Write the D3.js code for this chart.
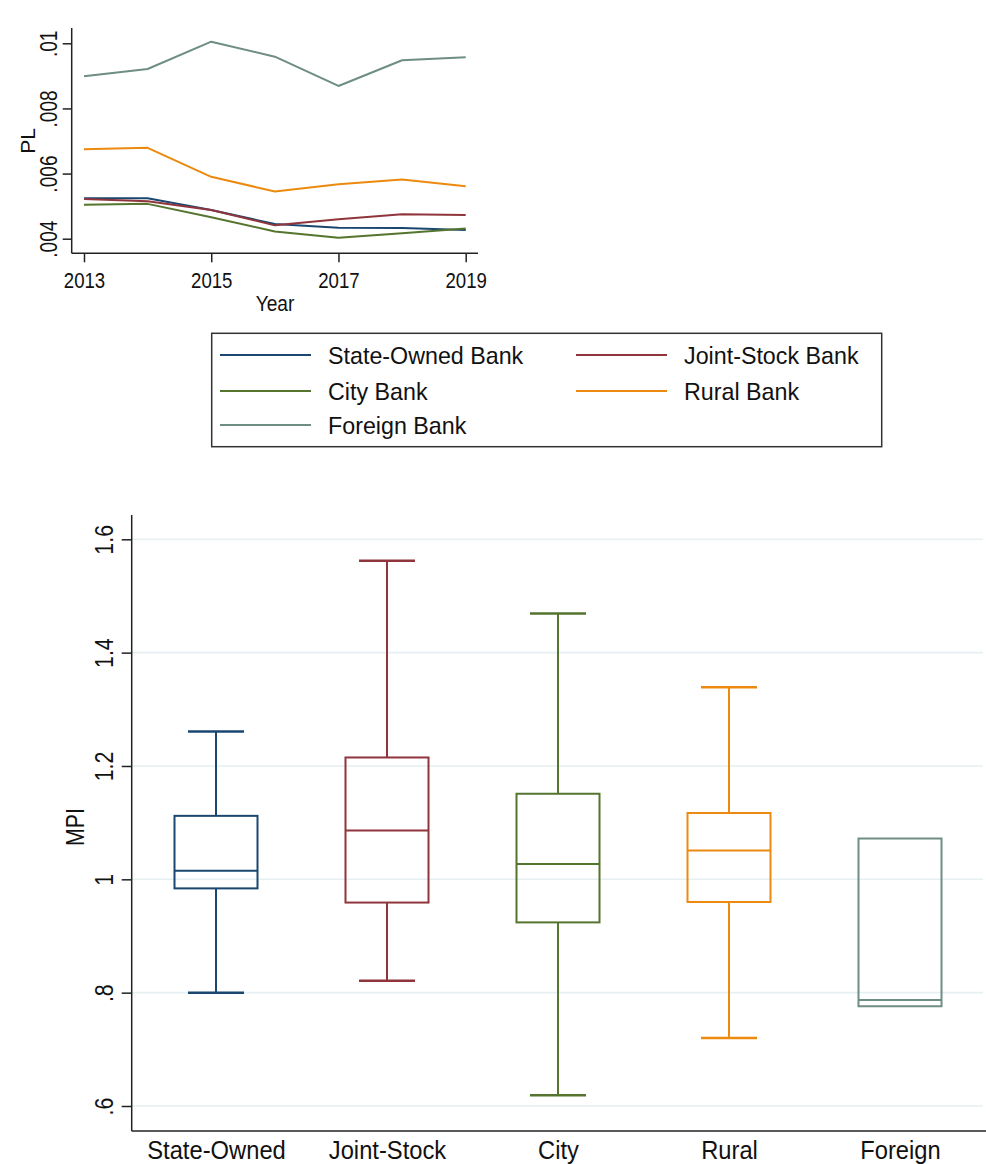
<!DOCTYPE html>
<html>
<head>
<meta charset="utf-8">
<script src="https://cdn.jsdelivr.net/npm/d3@7"></script>
<style>
  html, body { margin: 0; padding: 0; background: #fff; }
  svg { display: block; font-family: Arial, "Liberation Sans", sans-serif; }
</style>
</head>
<body>
<svg id="chart" width="986" height="1164"></svg>
<script>
// ---------- Data: top line chart (PL by year) ----------
const years = [2013, 2014, 2015, 2016, 2017, 2018, 2019];
const yearTicks = [2013, 2015, 2017, 2019];
const plTicks = [0.004, 0.006, 0.008, 0.01];
const plTickLabels = [".004", ".006", ".008", ".01"];

const seriesNames = ["State-Owned Bank", "Joint-Stock Bank", "City Bank", "Rural Bank", "Foreign Bank"];
const seriesColors = ["#1a476f", "#90353b", "#55752f", "#eb8a0e", "#6e8e84"];
const stateOwnedPL = [0.00524, 0.00524, 0.00488, 0.00445, 0.00434, 0.00433, 0.00427];
const jointStockPL = [0.00522, 0.00515, 0.00488, 0.00441, 0.00460, 0.00475, 0.00473];
const cityPL       = [0.00504, 0.00507, 0.00466, 0.00422, 0.00403, 0.00417, 0.00431];
const ruralPL      = [0.00675, 0.00679, 0.00590, 0.00545, 0.00567, 0.00582, 0.00561];
const foreignPL    = [0.00899, 0.00921, 0.01005, 0.00959, 0.00869, 0.00948, 0.00957];

// ---------- Data: box plot (MPI) ----------
const boxCategories = ["State-Owned", "Joint-Stock", "City", "Rural", "Foreign"];
const boxColors = ["#1a476f", "#90353b", "#55752f", "#eb8a0e", "#6e8e84"];
const mpiLowerWhisker = [0.800, 0.821, 0.619, 0.720, 0.776];
const mpiQ1           = [0.984, 0.959, 0.924, 0.960, 0.776];
const mpiMedian       = [1.015, 1.086, 1.027, 1.051, 0.787];
const mpiQ3           = [1.112, 1.215, 1.151, 1.117, 1.072];
const mpiUpperWhisker = [1.261, 1.562, 1.469, 1.339, 1.072];
const mpiTicks = [0.6, 0.8, 1.0, 1.2, 1.4, 1.6];
const mpiTickLabels = [".6", ".8", "1", "1.2", "1.4", "1.6"];

const svg = d3.select("#chart");
const AXIS = "#222";

function label(g, x, y, str, size, sx, rot, anchor) {
  return g.append("text")
    .attr("transform", `translate(${x},${y}) rotate(${rot || 0}) scale(${sx},1)`)
    .attr("text-anchor", anchor || "middle")
    .attr("font-size", size)
    .attr("fill", "#111")
    .text(str);
}

// ================= TOP LINE CHART =================
(function () {
  const x = d3.scaleLinear().domain([2013, 2019]).range([84, 465.7]);
  const y = d3.scaleLinear().domain([0.004, 0.01]).range([238.7, 43.3]);
  const axL = 71.7, axB = 253.3, axT = 28, axR = 478;
  const g = svg.append("g");

  const ya = g.append("g").attr("transform", `translate(${axL},0)`)
    .call(d3.axisLeft(y).tickValues(plTicks).tickSize(9).tickFormat((d, i) => plTickLabels[i]));
  ya.select(".domain").remove();
  ya.selectAll(".tick line").attr("stroke", AXIS).attr("stroke-width", 1.5);
  ya.selectAll(".tick text")
    .attr("x", null).attr("dy", null)
    .attr("text-anchor", "middle").attr("font-size", 23).attr("fill", "#111")
    .attr("transform", "translate(-15,0) rotate(-90) scale(0.83,1)");

  const xa = g.append("g").attr("transform", `translate(0,${axB})`)
    .call(d3.axisBottom(x).tickValues(yearTicks).tickSize(9).tickFormat(d3.format("d")));
  xa.select(".domain").remove();
  xa.selectAll(".tick line").attr("stroke", AXIS).attr("stroke-width", 1.5);
  xa.selectAll(".tick text")
    .attr("y", null).attr("dy", null)
    .attr("font-size", 23).attr("fill", "#111")
    .attr("transform", "translate(0,35) scale(0.81,1)");

  g.append("line").attr("x1", axL).attr("x2", axL).attr("y1", axT).attr("y2", axB)
    .attr("stroke", AXIS).attr("stroke-width", 1.5);
  g.append("line").attr("x1", axL).attr("x2", axR).attr("y1", axB).attr("y2", axB)
    .attr("stroke", AXIS).attr("stroke-width", 1.5);

  label(g, 35, 141, "PL", 21, 1, -90);
  label(g, 275, 311, "Year", 22, 0.87, 0);

  const series = [stateOwnedPL, jointStockPL, cityPL, ruralPL, foreignPL];
  const line = d3.line().x((d, i) => x(years[i])).y(d => y(d));
  series.forEach((s, k) => {
    g.append("path").datum(s).attr("d", line)
      .attr("fill", "none").attr("stroke", seriesColors[k]).attr("stroke-width", 2)
      .attr("stroke-linejoin", "round");
  });
})();

// ================= LEGEND =================
(function () {
  const g = svg.append("g");
  g.append("rect").attr("x", 211.7).attr("y", 333.3).attr("width", 670).attr("height", 113.4)
    .attr("fill", "#fff").attr("stroke", "#333").attr("stroke-width", 1.5);
  const cols = [{ lx: 220, tx: 328 }, { lx: 576, tx: 684 }];
  const rows = [355, 391, 425];
  seriesNames.forEach((name, i) => {
    const c = cols[i % 2], r = rows[Math.floor(i / 2)];
    g.append("line").attr("x1", c.lx).attr("x2", c.lx + 91).attr("y1", r).attr("y2", r)
      .attr("stroke", seriesColors[i]).attr("stroke-width", 2);
    label(g, c.tx, r + 8.5, name, 24, 0.97, 0, "start");
  });
})();

// ================= BOX PLOT =================
(function () {
  const y = d3.scaleLinear().domain([0.6, 1.6]).range([1106, 539.3]);
  const x = d3.scalePoint().domain(boxCategories).range([216, 900]);
  const axL = 131.7, axB = 1131, axT = 515, axR = 986;
  const boxW = 83, capW = 56;
  const g = svg.append("g");

  g.selectAll("line.grid").data(mpiTicks).enter().append("line")
    .attr("x1", axL).attr("x2", 983).attr("y1", d => y(d)).attr("y2", d => y(d))
    .attr("stroke", "#e6eff1").attr("stroke-width", 1.6);

  const ya = g.append("g").attr("transform", `translate(${axL},0)`)
    .call(d3.axisLeft(y).tickValues(mpiTicks).tickSize(10).tickFormat((d, i) => mpiTickLabels[i]));
  ya.select(".domain").remove();
  ya.selectAll(".tick line").attr("stroke", AXIS).attr("stroke-width", 1.5);
  ya.selectAll(".tick text")
    .attr("x", null).attr("dy", null)
    .attr("text-anchor", "middle").attr("font-size", 25.5).attr("fill", "#111")
    .attr("transform", "translate(-18.4,0) rotate(-90) scale(0.84,1)");

  const xa = g.append("g").attr("transform", `translate(0,${axB})`)
    .call(d3.axisBottom(x).tickSize(0));
  xa.select(".domain").remove();
  xa.selectAll(".tick text")
    .attr("y", null).attr("dy", null)
    .attr("font-size", 25).attr("fill", "#111")
    .attr("transform", "translate(0,27.5) scale(0.95,1)");

  g.append("line").attr("x1", axL).attr("x2", axL).attr("y1", axT).attr("y2", axB)
    .attr("stroke", AXIS).attr("stroke-width", 1.5);
  g.append("line").attr("x1", axL).attr("x2", axR).attr("y1", axB).attr("y2", axB)
    .attr("stroke", AXIS).attr("stroke-width", 1.5);

  label(g, 84, 827, "MPI", 26, 0.82, -90);

  boxCategories.forEach((c, i) => {
    const cx = x(c), col = boxColors[i];
    const bg = g.append("g").attr("stroke", col).attr("stroke-width", 2).attr("fill", "none");
    bg.append("line").attr("x1", cx).attr("x2", cx).attr("y1", y(mpiQ3[i])).attr("y2", y(mpiUpperWhisker[i]));
    bg.append("line").attr("x1", cx).attr("x2", cx).attr("y1", y(mpiQ1[i])).attr("y2", y(mpiLowerWhisker[i]));
    if (mpiUpperWhisker[i] > mpiQ3[i])
      bg.append("line").attr("x1", cx - capW / 2).attr("x2", cx + capW / 2)
        .attr("y1", y(mpiUpperWhisker[i])).attr("y2", y(mpiUpperWhisker[i])).attr("stroke-width", 2.5);
    if (mpiLowerWhisker[i] < mpiQ1[i])
      bg.append("line").attr("x1", cx - capW / 2).attr("x2", cx + capW / 2)
        .attr("y1", y(mpiLowerWhisker[i])).attr("y2", y(mpiLowerWhisker[i])).attr("stroke-width", 2.5);
    bg.append("rect").attr("x", cx - boxW / 2).attr("width", boxW)
      .attr("y", y(mpiQ3[i])).attr("height", y(mpiQ1[i]) - y(mpiQ3[i]));
    bg.append("line").attr("x1", cx - boxW / 2).attr("x2", cx + boxW / 2)
      .attr("y1", y(mpiMedian[i])).attr("y2", y(mpiMedian[i]));
  });
})();
</script>
</body>
</html>
